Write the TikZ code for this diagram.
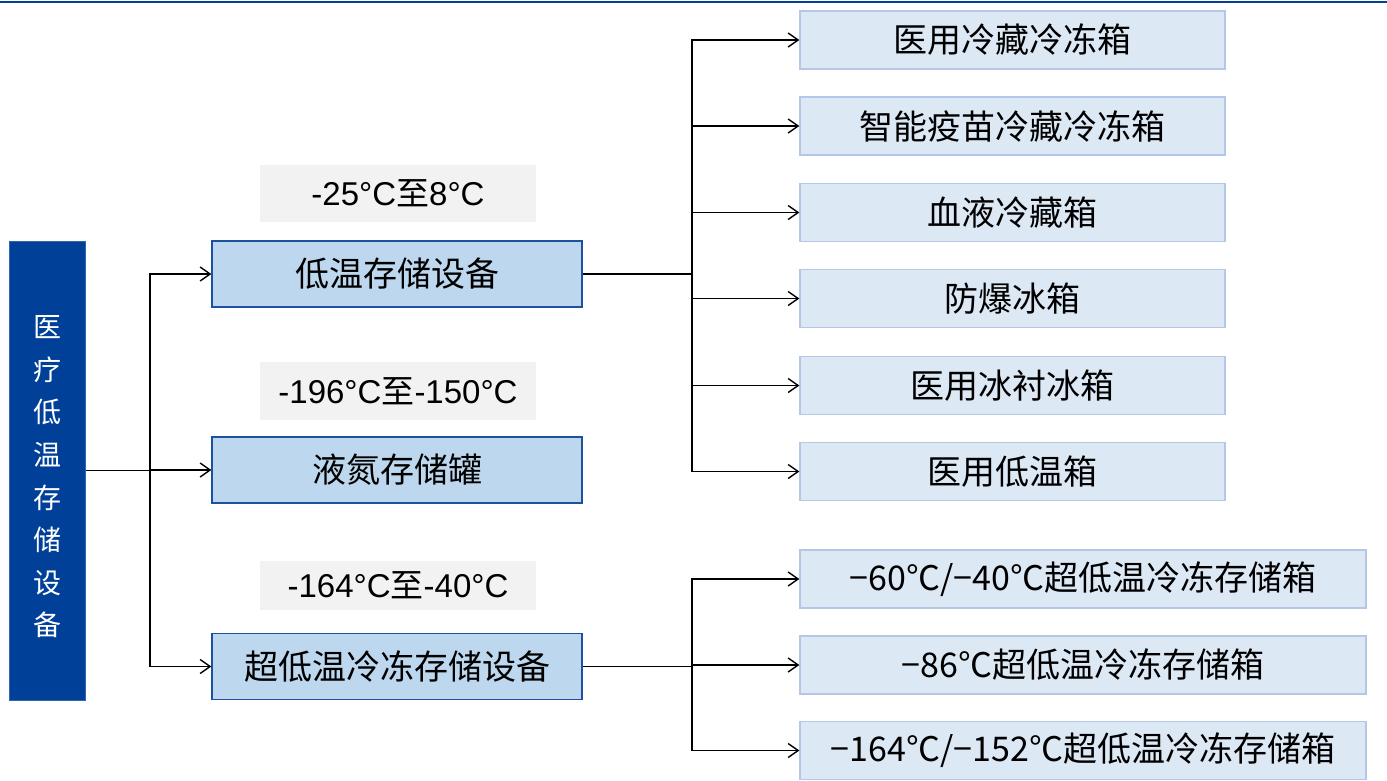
\documentclass[tikz,border=0pt]{standalone}
\usepackage{fontspec}
\setmainfont{Liberation Sans}
\newfontfamily\cjk{Noto Sans CJK SC}
\usetikzlibrary{arrows.meta}
\definecolor{navy}{RGB}{0,64,152}
\definecolor{midfill}{RGB}{189,215,238}
\definecolor{midline}{RGB}{30,80,160}
\definecolor{rfill}{RGB}{221,232,245}
\definecolor{rline}{RGB}{180,199,231}
\definecolor{gfill}{RGB}{242,242,242}
\tikzset{
  leftbox/.style={draw=navy!80,fill=navy,line width=1pt,minimum width=76pt,minimum height=459pt,inner sep=0pt},
  lefttext/.style={text=white,align=center,inner sep=0pt,font=\cjk\fontsize{28}{42.6}\selectfont},
  midbox/.style={draw=midline,fill=midfill,line width=1.3pt,minimum width=370pt,minimum height=66pt,inner sep=0pt,
    font=\cjk\fontsize{34}{38}\selectfont},
  rbox/.style={draw=rline,fill=rfill,line width=1.3pt,minimum width=425pt,minimum height=58pt,inner sep=0pt,
    font=\cjk\fontsize{34}{38}\selectfont},
  wbox/.style={rbox,minimum width=566pt},
  tlabel/.style={fill=gfill,minimum width=276pt,inner sep=0pt,font=\fontsize{33}{38}\selectfont},
  conn/.style={line width=1.4pt,-{Straight Barb[length=10pt,width=14pt,line width=1.4pt]}},
  plain/.style={line width=1.4pt},
}
\begin{document}
\begin{tikzpicture}[x=1pt,y=-1pt]
\useasboundingbox (0,0) rectangle (1387,780);
\draw[navy,line width=2.5pt] (0,2) -- (1387,2);

\node[leftbox] (L) at (47,470.5) {};
\node[lefttext] (Lt) at (47,477) {医\\疗\\低\\温\\存\\储\\设\\备};

\node[midbox] (M1) at (397,274) {低温存储设备};
\node[midbox] (M2) at (397,470) {液氮存储罐};
\node[midbox] (M3) at (397,666.5) {超低温冷冻存储设备};

\node[tlabel,minimum height=57pt] (T1) at (398,193.5) {-25°C{\cjk 至}8°C};
\node[tlabel,minimum height=58pt] (T2) at (398,391) {-196°C{\cjk 至}-150°C};
\node[tlabel,minimum height=49pt] (T3) at (398,585.5) {-164°C{\cjk 至}-40°C};

\node[rbox] (R1) at (1012.5,40) {医用冷藏冷冻箱};
\node[rbox] (R2) at (1012.5,126) {智能疫苗冷藏冷冻箱};
\node[rbox] (R3) at (1012.5,212.5) {血液冷藏箱};
\node[rbox] (R4) at (1012.5,298.5) {防爆冰箱};
\node[rbox] (R5) at (1012.5,385.5) {医用冰衬冰箱};
\node[rbox] (R6) at (1012.5,471.5) {医用低温箱};

\node[wbox] (W1) at (1083,579) {−60℃/−40℃超低温冷冻存储箱};
\node[wbox] (W2) at (1083,665) {−86℃超低温冷冻存储箱};
\node[wbox] (W3) at (1083,750.5) {−164℃/−152℃超低温冷冻存储箱};

\coordinate (J0) at (150,470.5);
\draw[plain] (L.east) -- (J0);
\foreach \m in {M1,M2,M3} \draw[conn] (J0) |- (\m.west);

\coordinate (J1) at (692,274);
\draw[plain] (M1.east) -- (J1);
\foreach \r in {R1,R2,R3,R4,R5,R6} \draw[conn] (J1) |- (\r.west);

\coordinate (J2) at (692,666.5);
\draw[plain] (M3.east) -- (J2);
\foreach \r in {W1,W2,W3} \draw[conn] (J2) |- (\r.west);
\end{tikzpicture}
\end{document}
